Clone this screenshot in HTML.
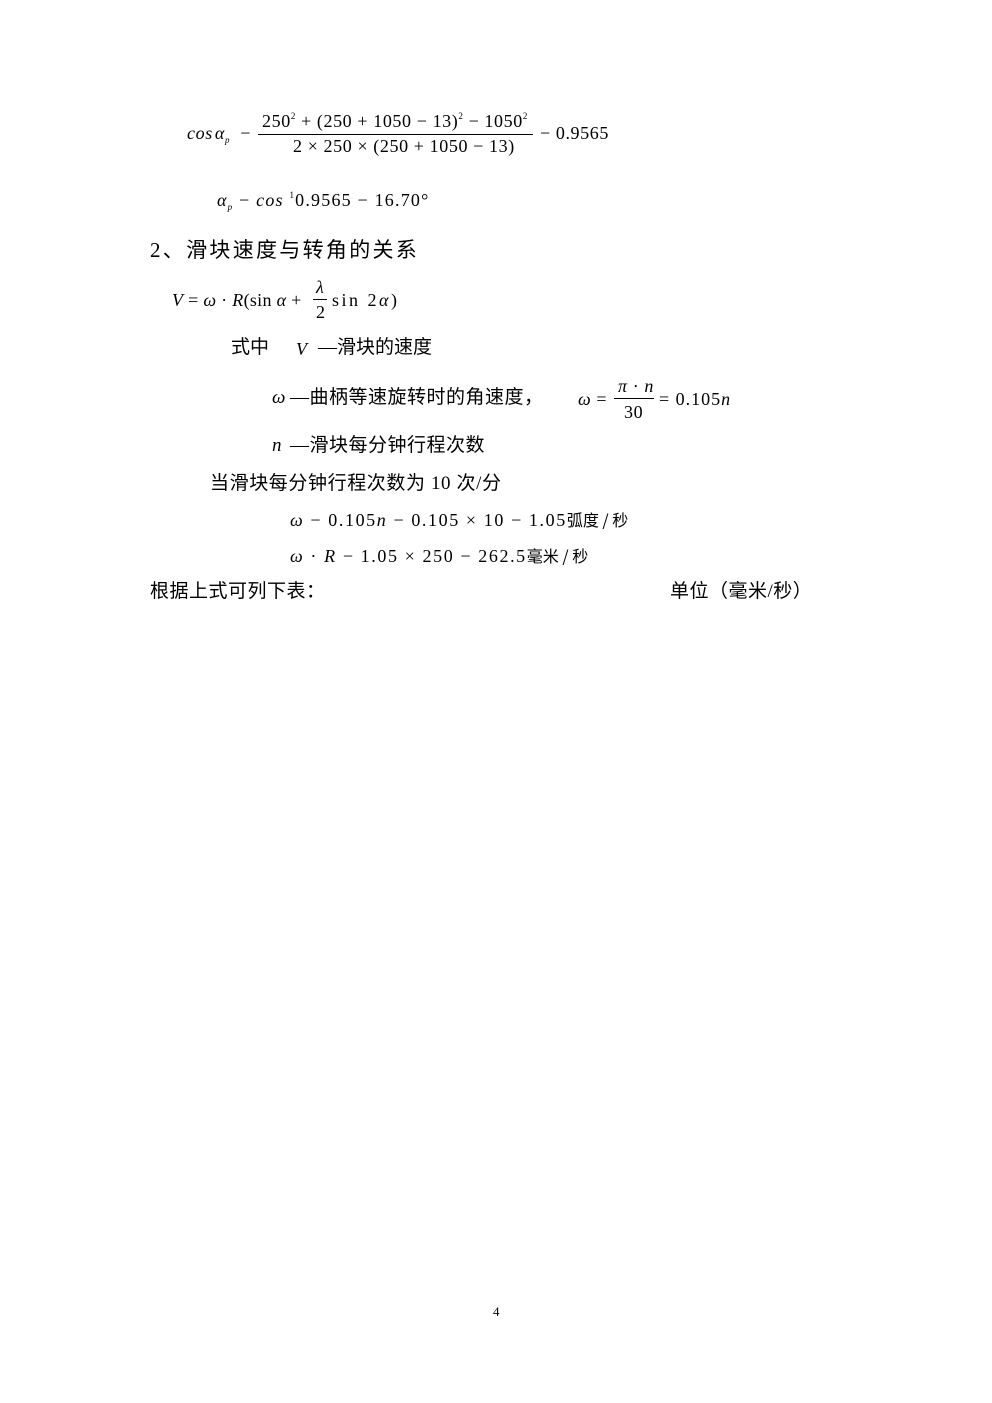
<!DOCTYPE html>
<html><head><meta charset="utf-8"><style>
body{margin:0;background:#fff;}
#p{position:relative;width:992px;height:1403px;overflow:hidden;background:#fff;color:#000;}
.a{position:absolute;white-space:nowrap;line-height:1;}
.m{font-family:"Liberation Serif",serif;font-size:18px;letter-spacing:0.6px;}
.c{font-family:"Liberation Serif","Noto Sans CJK SC",sans-serif;font-size:19px;}
i{font-style:italic;}
.bar{position:absolute;height:1px;background:#000;}
sup{font-size:9px;vertical-align:8px;}
sub{font-size:9px;vertical-align:-4px;}
.k{font-family:'Noto Sans CJK SC',sans-serif;font-size:16px;letter-spacing:0;}
</style></head><body><div id="p">

<div class="a m" style="left:187px;top:124px;"><i>cos</i>&#8202;<i>α</i><sub><i>p</i></sub> &nbsp;−</div>
<div class="a m" style="left:262px;top:112px;letter-spacing:0.6px;">250<sup>2</sup> + (250 + 1050 − 13)<sup>2</sup> − 1050<sup>2</sup></div>
<div class="bar" style="left:258px;top:134px;width:275px;"></div>
<div class="a m" style="left:293px;top:137px;">2 × 250 × (250 + 1050 − 13)</div>
<div class="a m" style="left:540px;top:124px;">− 0.9565</div>

<div class="a m" style="left:217px;top:191px;letter-spacing:1.2px;"><i>α</i><sub><i>p</i></sub> − <i>cos</i> <sup>1</sup>0.9565 − 16.70°</div>

<div class="a c" style="left:150px;top:240px;font-size:21px;letter-spacing:2.3px;">2、滑块速度与转角的关系</div>

<div class="a m" style="left:172px;top:291px;letter-spacing:0.3px;"><i>V</i> = <i>ω</i> · <i>R</i>(sin <i>α</i> +</div>
<div class="a m" style="left:316px;top:278px;"><i>λ</i></div>
<div class="bar" style="left:313px;top:299px;width:14px;"></div>
<div class="a m" style="left:316px;top:303px;">2</div>
<div class="a m" style="left:332px;top:291px;letter-spacing:2.5px;">sin 2<i>α</i>)</div>

<div class="a c" style="left:231px;top:338px;">式中</div>
<div class="a m" style="left:296px;top:340px;font-size:18px;"><i>V</i></div>
<div class="a c" style="left:318px;top:338px;">—滑块的速度</div>

<div class="a m" style="left:272px;top:388px;font-size:19px;"><i>ω</i></div>
<div class="a c" style="left:290px;top:388px;letter-spacing:0.5px;">—曲柄等速旋转时的角速度，</div>
<div class="a m" style="left:578px;top:390px;"><i>ω</i> =</div>
<div class="a m" style="left:618px;top:377px;"><i>π</i> · <i>n</i></div>
<div class="bar" style="left:614px;top:398px;width:40px;"></div>
<div class="a m" style="left:624px;top:403px;">30</div>
<div class="a m" style="left:659px;top:390px;letter-spacing:1px;">= 0.105<i>n</i></div>

<div class="a m" style="left:272px;top:436px;font-size:19px;"><i>n</i></div>
<div class="a c" style="left:290px;top:436px;letter-spacing:0.5px;">—滑块每分钟行程次数</div>

<div class="a c" style="left:210px;top:474px;letter-spacing:0.6px;">当滑块每分钟行程次数为 10 次/分</div>

<div class="a m" style="left:290px;top:511px;letter-spacing:1.6px;"><i>ω</i> − 0.105<i>n</i> − 0.105 × 10 − 1.05<span class="k">弧度 / 秒</span></div>
<div class="a m" style="left:290px;top:547px;letter-spacing:1.6px;"><i>ω</i> · <i>R</i> − 1.05 × 250 − 262.5<span class="k">毫米 / 秒</span></div>

<div class="a c" style="left:150px;top:582px;letter-spacing:0.5px;">根据上式可列下表：</div>
<div class="a c" style="left:670px;top:582px;letter-spacing:0.5px;">单位（毫米/秒）</div>

<div class="a m" style="left:493px;top:1305px;font-size:13px;">4</div>
</div></body></html>
